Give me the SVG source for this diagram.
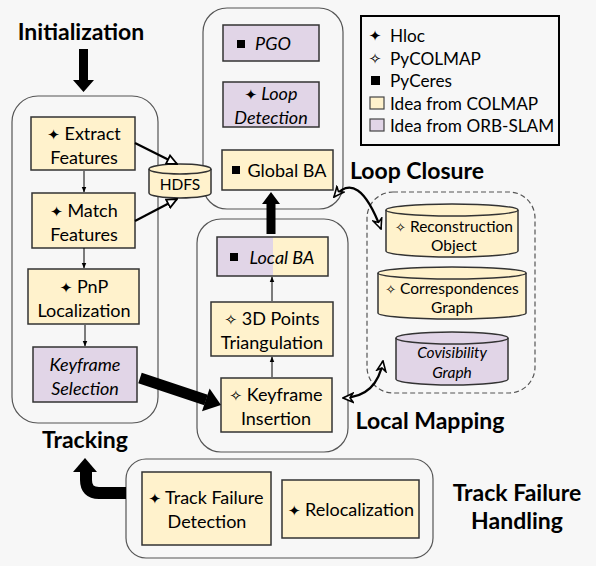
<svg xmlns="http://www.w3.org/2000/svg" width="596" height="566" viewBox="0 0 596 566">
<defs>
<style>
text{font-family:"Lato","Open Sans","Liberation Sans",sans-serif;fill:#000;}
.t{font-size:18px;text-anchor:middle;}
.c{font-size:15.5px;text-anchor:middle;}
.i{font-style:italic;}
.lbl{font-size:23px;font-weight:bold;text-anchor:middle;}
.lg{font-size:17.2px;}
.y{fill:#fff2cc;stroke:#333;stroke-width:1.5;}
.p{fill:#e1d5e7;stroke:#333;stroke-width:1.5;}
.cont{fill:none;stroke:#555;stroke-width:1.2;}
.thin{stroke:#000;stroke-width:1;fill:none;marker-end:url(#ah);}
.hol{stroke:#000;stroke-width:2.2;fill:none;marker-end:url(#hollow);}
.crv{stroke:#000;stroke-width:2.2;fill:none;marker-start:url(#vS);marker-end:url(#vE);}
.sym{font-family:"DejaVu Sans",sans-serif;font-style:normal;}
</style>
<marker id="ah" viewBox="0 0 10 10" refX="9" refY="5" markerWidth="6" markerHeight="6" markerUnits="userSpaceOnUse" orient="auto"><path d="M0,1 L10,5 L0,9 Z" fill="#000"/></marker>
<marker id="hollow" viewBox="0 0 12 12" refX="11" refY="6" markerWidth="12" markerHeight="12" markerUnits="userSpaceOnUse" orient="auto"><path d="M1,1.5 L11,6 L1,10.5 Z" fill="#fff" stroke="#000" stroke-width="1.8"/></marker>
<marker id="vE" viewBox="0 0 12 12" refX="11" refY="6" markerWidth="12" markerHeight="12" markerUnits="userSpaceOnUse" orient="auto"><path d="M1,1.5 L11,6 L1,10.5 L4,6 Z" fill="#fff" stroke="#000" stroke-width="1.6"/></marker>
<marker id="vS" viewBox="0 0 12 12" refX="1" refY="6" markerWidth="12" markerHeight="12" markerUnits="userSpaceOnUse" orient="auto"><path d="M11,1.5 L1,6 L11,10.5 L8,6 Z" fill="#fff" stroke="#000" stroke-width="1.6"/></marker>
</defs>
<rect x="0" y="0" width="596" height="566" fill="#f7f7f7"/>

<g id="labels">
<text class="lbl" x="81" y="40">Initialization</text>
<text class="lbl" x="85" y="448">Tracking</text>
<text class="lbl" x="417" y="179">Loop Closure</text>
<text class="lbl" x="430" y="429">Local Mapping</text>
<text class="lbl" x="517" y="501">Track Failure</text>
<text class="lbl" x="517" y="529">Handling</text>
</g>

<g id="containers">
<rect id="tracking" class="cont" x="12" y="96" width="146" height="327" rx="26"/>
<rect id="loop-closure" class="cont" x="203" y="8" width="140" height="201" rx="24"/>
<rect id="local-mapping" class="cont" x="197" y="219" width="151" height="233" rx="24"/>
<rect id="data-store" x="367" y="192" width="168" height="201" rx="26" fill="none" stroke="#555" stroke-width="1.2" stroke-dasharray="5,3"/>
<rect id="track-failure-handling" class="cont" x="126" y="459" width="307" height="99" rx="20"/>
</g>

<g id="legend">
<rect x="361" y="16" width="198" height="129" fill="#f7f7f7" stroke="#000" stroke-width="2"/>
<text class="sym" x="375" y="41" font-size="15" text-anchor="middle">✦</text>
<text class="lg" x="390" y="42">Hloc</text>
<text class="sym" x="375" y="64" font-size="15" text-anchor="middle">✧</text>
<text class="lg" x="390" y="65">PyCOLMAP</text>
<rect x="371" y="76" width="9" height="9" fill="#000"/>
<text class="lg" x="390" y="87">PyCeres</text>
<rect x="370" y="97" width="14" height="12" fill="#fff2cc" stroke="#444" stroke-width="1.2"/>
<text class="lg" x="390" y="110">Idea from COLMAP</text>
<rect x="370" y="119" width="14" height="12" fill="#e1d5e7" stroke="#444" stroke-width="1.2"/>
<text class="lg" x="390" y="132">Idea from ORB-SLAM</text>
</g>

<g id="extract-features">
<rect class="y" x="31" y="117" width="104" height="53"/>
<text class="t" x="84" y="140"><tspan class="sym" font-size="15">✦</tspan> Extract</text>
<text class="t" x="84" y="164">Features</text>
</g>
<g id="match-features">
<rect class="y" x="32" y="193" width="103" height="55"/>
<text class="t" x="84" y="217"><tspan class="sym" font-size="15">✦</tspan> Match</text>
<text class="t" x="84" y="241">Features</text>
</g>
<g id="pnp-localization">
<rect class="y" x="28" y="269" width="111" height="55"/>
<text class="t" x="84" y="293"><tspan class="sym" font-size="15">✦</tspan>   PnP</text>
<text class="t" x="84" y="317">Localization</text>
</g>
<g id="keyframe-selection">
<rect class="p" x="33" y="347" width="104" height="55"/>
<text class="t i" x="85" y="371">Keyframe</text>
<text class="t i" x="85" y="395">Selection</text>
</g>
<g id="hdfs">
<path d="M149,169 A31,5 0 0 1 211,169 V193 A31,5 0 0 1 149,193 Z" class="y"/>
<path d="M149,169 A31,5 0 0 0 211,169" fill="none" stroke="#333" stroke-width="1.5"/>
<text class="c" x="180" y="190">HDFS</text>
</g>

<g id="pgo">
<rect class="p" x="223" y="25" width="96" height="36"/>
<rect x="237" y="40" width="8" height="8" fill="#000"/>
<text class="t i" x="273" y="50">PGO</text>
</g>
<g id="loop-detection">
<rect class="p" x="223" y="82" width="96" height="45"/>
<text class="t i" x="271" y="100"><tspan class="sym" font-size="15">✦</tspan> Loop</text>
<text class="t i" x="271" y="124">Detection</text>
</g>
<g id="global-ba">
<rect class="y" x="222" y="150" width="111" height="40"/>
<rect x="232" y="166" width="8" height="8" fill="#000"/>
<text class="t" x="287" y="177">Global BA</text>
</g>

<g id="local-ba">
<rect x="217" y="237" width="56" height="39" fill="#e1d5e7"/>
<rect x="273" y="237" width="55" height="39" fill="#fff2cc"/>
<rect x="217" y="237" width="111" height="39" fill="none" stroke="#333" stroke-width="1.5"/>
<rect x="230" y="253" width="8" height="8" fill="#000"/>
<text class="t i" x="282" y="264">Local BA</text>
</g>
<g id="triangulation">
<rect class="y" x="211" y="302" width="122" height="54"/>
<text class="t" x="272" y="325"><tspan class="sym" font-size="15">✧</tspan>  3D Points</text>
<text class="t" x="272" y="349">Triangulation</text>
</g>
<g id="keyframe-insertion">
<rect class="y" x="221" y="378" width="111" height="54"/>
<text class="t" x="276" y="401"><tspan class="sym" font-size="15">✧</tspan> Keyframe</text>
<text class="t" x="276" y="425">Insertion</text>
</g>

<g id="reconstruction-object">
<path d="M386,210 A66,6 0 0 1 518,210 V251 A66,6 0 0 1 386,251 Z" class="y"/>
<path d="M386,210 A66,6 0 0 0 518,210" fill="none" stroke="#333" stroke-width="1.5"/>
<text class="c" x="454" y="232"><tspan class="sym" font-size="13">✧</tspan> Reconstruction</text>
<text class="c" x="454" y="251">Object</text>
</g>
<g id="correspondences-graph">
<path d="M378,273 A74,6 0 0 1 526,273 V313 A74,6 0 0 1 378,313 Z" class="y"/>
<path d="M378,273 A74,6 0 0 0 526,273" fill="none" stroke="#333" stroke-width="1.5"/>
<text class="c" x="452" y="294"><tspan class="sym" font-size="13">✧</tspan> Correspondences</text>
<text class="c" x="452" y="313">Graph</text>
</g>
<g id="covisibility-graph">
<path d="M396,338 A56,6 0 0 1 508,338 V379 A56,6 0 0 1 396,379 Z" class="p"/>
<path d="M396,338 A56,6 0 0 0 508,338" fill="none" stroke="#333" stroke-width="1.5"/>
<text class="c i" x="452" y="358">Covisibility</text>
<text class="c i" x="452" y="378">Graph</text>
</g>

<g id="track-failure-detection">
<rect class="y" x="142" y="472" width="129" height="73"/>
<text class="t" x="206" y="504"><tspan class="sym" font-size="15">✦</tspan> Track Failure</text>
<text class="t" x="207" y="528">Detection</text>
</g>
<g id="relocalization">
<rect class="y" x="282" y="480" width="137" height="58"/>
<text class="t" x="351" y="516"><tspan class="sym" font-size="15">✦</tspan> Relocalization</text>
</g>

<g id="connectors">
<polygon points="79,49 88,49 88,80 94,80 83.5,92 73,80 79,80" fill="#000"/>
<line class="thin" x1="84" y1="171" x2="84" y2="192"/>
<line class="thin" x1="84" y1="248" x2="84" y2="268"/>
<line class="thin" x1="85" y1="325" x2="85" y2="346"/>
<line class="hol" x1="135" y1="143" x2="177" y2="164"/>
<line class="hol" x1="135" y1="221" x2="177" y2="199"/>
<line x1="140" y1="378" x2="206" y2="400" stroke="#000" stroke-width="11"/>
<polygon points="221,405 202,411.3 209.6,388.5" fill="#000"/>
<line class="thin" x1="272" y1="377" x2="272" y2="357"/>
<line class="thin" x1="272" y1="301" x2="272" y2="277"/>
<polygon points="266.5,234 275.5,234 275.5,204 280,204 271,192 262,204 266.5,204" fill="#000"/>
<path class="crv" d="M334,197 Q358,168 381,229"/>
<path class="crv" d="M343,398 Q377,397 383,361"/>
<path d="M126,493 H99 Q86,493 86,480 V471" fill="none" stroke="#000" stroke-width="12"/>
<polygon points="73,472 97,472 85,458" fill="#000"/>
</g>
</svg>
